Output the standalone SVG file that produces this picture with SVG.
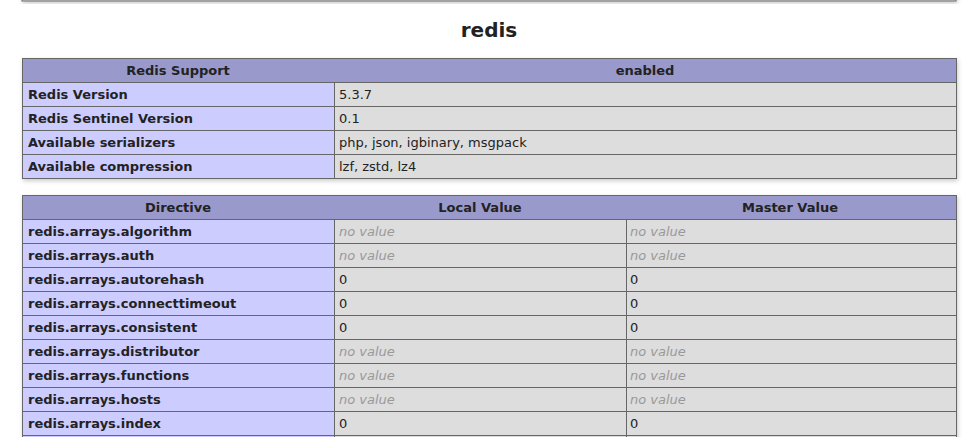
<svg xmlns="http://www.w3.org/2000/svg" width="980" height="437" viewBox="0 0 980 437">
<defs>
<filter id="sh" x="-5%" y="-20%" width="110%" height="140%"><feDropShadow dx="1" dy="2" stdDeviation="2" flood-color="#000" flood-opacity="0.2"/></filter>
<style>
text{font-family:"DejaVu Sans",sans-serif;font-size:13px;fill:#222}
.b{font-weight:bold}
.c{text-anchor:middle}
.n{fill:#999;font-style:italic}
.h{fill:#9999cc}.e{fill:#ccccff}.v{fill:#dddddd}
line{stroke:#666;stroke-width:1}
</style>
</defs>
<rect width="980" height="437" fill="#fff"/>
<rect x="22" y="-10" width="934" height="11" fill="#ddd" stroke="#666" filter="url(#sh)"/>
<text x="489" y="37" class="b c" style="font-size:20px">redis</text>
<g id="t1">
<rect x="22.5" y="58.5" width="934" height="120" fill="#ddd" stroke="#666" filter="url(#sh)"/>
<rect x="23" y="59" width="933" height="23" class="h"/>
<rect x="23" y="82" width="311" height="96" class="e"/>
<line x1="22" y1="82.5" x2="956" y2="82.5"/><line x1="22" y1="106.5" x2="956" y2="106.5"/><line x1="22" y1="130.5" x2="956" y2="130.5"/><line x1="22" y1="154.5" x2="956" y2="154.5"/>
<line x1="334.5" y1="82" x2="334.5" y2="178"/>
<text x="178" y="75" class="b c">Redis Support</text><text x="645" y="75" class="b c">enabled</text>
<text x="28" y="99" class="b">Redis Version</text><text x="339" y="99">5.3.7</text>
<text x="28" y="123" class="b">Redis Sentinel Version</text><text x="339" y="123">0.1</text>
<text x="28" y="147" class="b">Available serializers</text><text x="339" y="147">php, json, igbinary, msgpack</text>
<text x="28" y="171" class="b">Available compression</text><text x="339" y="171">lzf, zstd, lz4</text>
</g>
<g id="t2">
<rect x="22.5" y="195.5" width="934" height="260" fill="#ddd" stroke="#666" filter="url(#sh)"/>
<rect x="23" y="196" width="933" height="23" class="h"/>
<rect x="23" y="219" width="311" height="230" class="e"/>
<line x1="22" y1="219.5" x2="956" y2="219.5"/><line x1="22" y1="243.5" x2="956" y2="243.5"/><line x1="22" y1="267.5" x2="956" y2="267.5"/><line x1="22" y1="291.5" x2="956" y2="291.5"/><line x1="22" y1="315.5" x2="956" y2="315.5"/><line x1="22" y1="339.5" x2="956" y2="339.5"/><line x1="22" y1="363.5" x2="956" y2="363.5"/><line x1="22" y1="387.5" x2="956" y2="387.5"/><line x1="22" y1="411.5" x2="956" y2="411.5"/><line x1="22" y1="435.5" x2="956" y2="435.5"/>
<line x1="334.5" y1="219" x2="334.5" y2="437"/><line x1="626.5" y1="219" x2="626.5" y2="437"/>
<text x="178" y="212" class="b c">Directive</text><text x="480" y="212" class="b c">Local Value</text><text x="790" y="212" class="b c">Master Value</text>
<text x="28" y="236" class="b">redis.arrays.algorithm</text><text x="339" y="236" class="n">no value</text><text x="630" y="236" class="n">no value</text>
<text x="28" y="260" class="b">redis.arrays.auth</text><text x="339" y="260" class="n">no value</text><text x="630" y="260" class="n">no value</text>
<text x="28" y="284" class="b">redis.arrays.autorehash</text><text x="339" y="284">0</text><text x="630" y="284">0</text>
<text x="28" y="308" class="b">redis.arrays.connecttimeout</text><text x="339" y="308">0</text><text x="630" y="308">0</text>
<text x="28" y="332" class="b">redis.arrays.consistent</text><text x="339" y="332">0</text><text x="630" y="332">0</text>
<text x="28" y="356" class="b">redis.arrays.distributor</text><text x="339" y="356" class="n">no value</text><text x="630" y="356" class="n">no value</text>
<text x="28" y="380" class="b">redis.arrays.functions</text><text x="339" y="380" class="n">no value</text><text x="630" y="380" class="n">no value</text>
<text x="28" y="404" class="b">redis.arrays.hosts</text><text x="339" y="404" class="n">no value</text><text x="630" y="404" class="n">no value</text>
<text x="28" y="428" class="b">redis.arrays.index</text><text x="339" y="428">0</text><text x="630" y="428">0</text>
</g>
</svg>
